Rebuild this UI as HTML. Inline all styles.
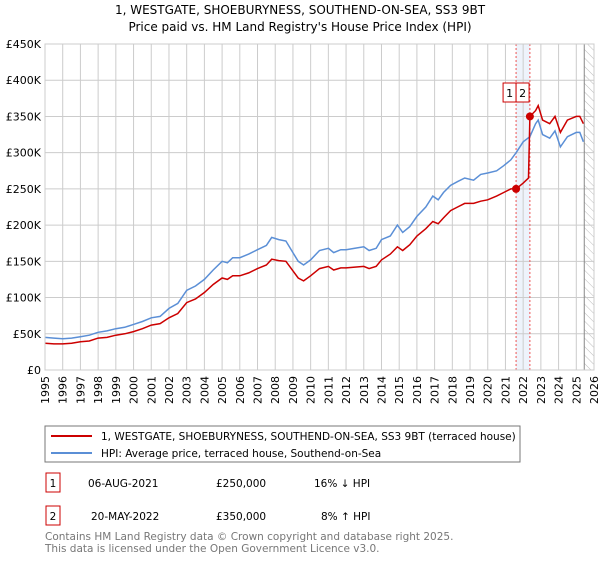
<!DOCTYPE html>
<html><head><meta charset="utf-8"><style>
body{margin:0;background:#fff;font-family:"DejaVu Sans","Liberation Sans",sans-serif;}
svg text{font-family:"DejaVu Sans","Liberation Sans",sans-serif;}
</style></head><body>
<svg id="c" width="600" height="560" xmlns="http://www.w3.org/2000/svg">
<defs><pattern id="hatch" width="6" height="6" patternUnits="userSpaceOnUse" patternTransform="rotate(-45)"><line x1="0" y1="0" x2="0" y2="6" stroke="#bbb" stroke-width="1"/></pattern></defs>
<text x="300" y="14" text-anchor="middle" font-size="12">1, WESTGATE, SHOEBURYNESS, SOUTHEND-ON-SEA, SS3 9BT</text>
<text x="300" y="31" text-anchor="middle" font-size="12">Price paid vs. HM Land Registry's House Price Index (HPI)</text>
<g id="grid"></g><g id="series"></g><g id="axes"></g>
<rect x="45" y="426" width="475" height="36" fill="#fff" stroke="#777"/>
<line x1="51" y1="436" x2="92" y2="436" stroke="#cc0000" stroke-width="2"/>
<text x="101" y="440" font-size="10.5">1, WESTGATE, SHOEBURYNESS, SOUTHEND-ON-SEA, SS3 9BT (terraced house)</text>
<line x1="51" y1="453" x2="92" y2="453" stroke="#5b8fd6" stroke-width="2"/>
<text x="101" y="457" font-size="10.5">HPI: Average price, terraced house, Southend-on-Sea</text>
<rect x="46" y="473" width="14" height="19" fill="#fff" stroke="#cc0000"/>
<text x="53" y="487" text-anchor="middle" font-size="10.5">1</text>
<text x="88" y="487" font-size="10.5">06-AUG-2021</text>
<text x="216" y="487" font-size="10.5">£250,000</text>
<text x="314" y="487" font-size="10.5">16% ↓ HPI</text>
<rect x="46" y="506" width="14" height="19" fill="#fff" stroke="#cc0000"/>
<text x="53" y="520" text-anchor="middle" font-size="10.5">2</text>
<text x="91" y="520" font-size="10.5">20-MAY-2022</text>
<text x="216" y="520" font-size="10.5">£350,000</text>
<text x="321" y="520" font-size="10.5">8% ↑ HPI</text>
<text x="45" y="540" font-size="10.5" fill="#777">Contains HM Land Registry data © Crown copyright and database right 2025.</text>
<text x="45" y="552" font-size="10.5" fill="#777">This data is licensed under the Open Government Licence v3.0.</text>
</svg>
<script>
const yTicks=[0,50,100,150,200,250,300,350,400,450];
const yTickLabels=["£0","£50K","£100K","£150K","£200K","£250K","£300K","£350K","£400K","£450K"];
const xYears=[1995,1996,1997,1998,1999,2000,2001,2002,2003,2004,2005,2006,2007,2008,2009,2010,2011,2012,2013,2014,2015,2016,2017,2018,2019,2020,2021,2022,2023,2024,2025,2026];
const hpiDates=[1995,1995.5,1996,1996.5,1997,1997.5,1998,1998.5,1999,1999.5,2000,2000.5,2001,2001.5,2002,2002.5,2003,2003.5,2004,2004.5,2005,2005.3,2005.6,2006,2006.5,2007,2007.5,2007.8,2008.2,2008.6,2009,2009.3,2009.6,2010,2010.5,2011,2011.3,2011.7,2012,2012.5,2013,2013.3,2013.7,2014,2014.5,2014.9,2015.2,2015.6,2016,2016.5,2016.9,2017.2,2017.5,2017.9,2018.3,2018.7,2019.2,2019.6,2020,2020.5,2020.9,2021.3,2021.6,2022,2022.38,2022.7,2022.85,2023.1,2023.5,2023.8,2024.1,2024.5,2025,2025.2,2025.4];
const hpiValues=[45,44,43,44,46,48,52,54,57,59,63,67,72,74,85,92,110,116,125,138,150,148,155,155,160,166,172,183,180,178,162,150,145,152,165,168,162,166,166,168,170,165,168,180,185,200,190,198,212,225,240,235,245,255,260,265,262,270,272,275,282,290,300,315,322,340,345,325,320,330,308,322,328,328,315];
const priceDates=[1995,1995.5,1996,1996.5,1997,1997.5,1998,1998.5,1999,1999.5,2000,2000.5,2001,2001.5,2002,2002.5,2003,2003.5,2004,2004.5,2005,2005.3,2005.6,2006,2006.5,2007,2007.5,2007.8,2008.2,2008.6,2009,2009.3,2009.6,2010,2010.5,2011,2011.3,2011.7,2012,2012.5,2013,2013.3,2013.7,2014,2014.5,2014.9,2015.2,2015.6,2016,2016.5,2016.9,2017.2,2017.5,2017.9,2018.3,2018.7,2019.2,2019.6,2020,2020.5,2020.9,2021.3,2021.6,2022,2022.3,2022.38,2022.7,2022.85,2023.1,2023.5,2023.8,2024.1,2024.5,2025,2025.2,2025.4];
const priceValues=[37,36,36,37,39,40,44,45,48,50,53,57,62,64,72,78,93,98,107,118,127,125,130,130,134,140,145,153,151,150,137,127,123,130,140,143,138,141,141,142,143,140,143,152,160,170,165,173,185,195,205,202,210,220,225,230,230,233,235,240,245,250,250,258,265,350,358,365,345,340,350,328,345,350,350,340];
const saleDates=[2021.6,2022.38];
const saleValues=[250,350];
const saleLabels=["1","2"];
const dataEnd=2025.45;

const X0=45,X1=594,Y0=370,Y1=44;
const x=t=>X0+(t-1995)*(X1-X0)/31;
const y=v=>Y0-v*(Y0-Y1)/450;
const NS="http://www.w3.org/2000/svg";
function mk(parent,tag,attrs){const e=document.createElementNS(NS,tag);for(const k in attrs)e.setAttribute(k,attrs[k]);document.getElementById(parent).appendChild(e);return e;}
let band=mk('grid','rect',{x:x(saleDates[0]),y:Y1,width:x(saleDates[1])-x(saleDates[0]),height:Y0-Y1,fill:'#eef3fb'});


let hat=mk('grid','rect',{x:x(dataEnd),y:Y1,width:X1-x(dataEnd),height:Y0-Y1,fill:'url(#hatch)'});


xYears.forEach(t=>{let l=mk('grid','line',{x1:x(t),x2:x(t),y1:Y1,y2:Y0,stroke:'#ccc','stroke-width':1});


let tx=mk('axes','text',{transform:`translate(${x(t)+4},${Y0+6}) rotate(-90)`,'text-anchor':'end','font-size':11});tx.textContent=t;

});
yTicks.forEach((v,i)=>{let l=mk('grid','line',{x1:X0,x2:X1,y1:y(v),y2:y(v),stroke:'#ccc','stroke-width':1});


let tx=mk('axes','text',{x:X0-4,y:y(v)+4,'text-anchor':'end','font-size':11});tx.textContent=yTickLabels[i];

});
let el=mk('grid','line',{x1:x(dataEnd),x2:x(dataEnd),y1:Y1,y2:Y0,stroke:'#888','stroke-width':1});


saleDates.forEach(t=>{let l=mk('grid','line',{x1:x(t),x2:x(t),y1:Y1,y2:Y0,stroke:'#e55','stroke-width':1,'stroke-dasharray':'2,2'});

});
const pts=(d,v)=>d.map((t,i)=>x(t).toFixed(1)+','+y(v[i]).toFixed(1)).join(' ');
let h=mk('series','polyline',{points:pts(hpiDates,hpiValues),fill:'none',stroke:'#5b8fd6','stroke-width':1.5});


let p=mk('series','polyline',{points:pts(priceDates,priceValues),fill:'none',stroke:'#cc0000','stroke-width':1.5});


saleDates.forEach((t,i)=>{let c=mk('series','circle',{cx:x(t),cy:y(saleValues[i]),r:4,fill:'#cc0000'});


let r=mk('series','rect',{x:(i==0?x(saleDates[0])-13:x(saleDates[0])),y:83,width:13,height:19,fill:'#fff',stroke:'#cc0000'});


let tx=mk('series','text',{x:(i==0?x(saleDates[0])-6.5:x(saleDates[0])+6.5),y:97,'text-anchor':'middle','font-size':11});tx.textContent=saleLabels[i];

});
let ax=mk('axes','rect',{x:X0,y:Y1,width:X1-X0,height:Y0-Y1,fill:'none',stroke:'#ccc'});


</script>
</body></html>
